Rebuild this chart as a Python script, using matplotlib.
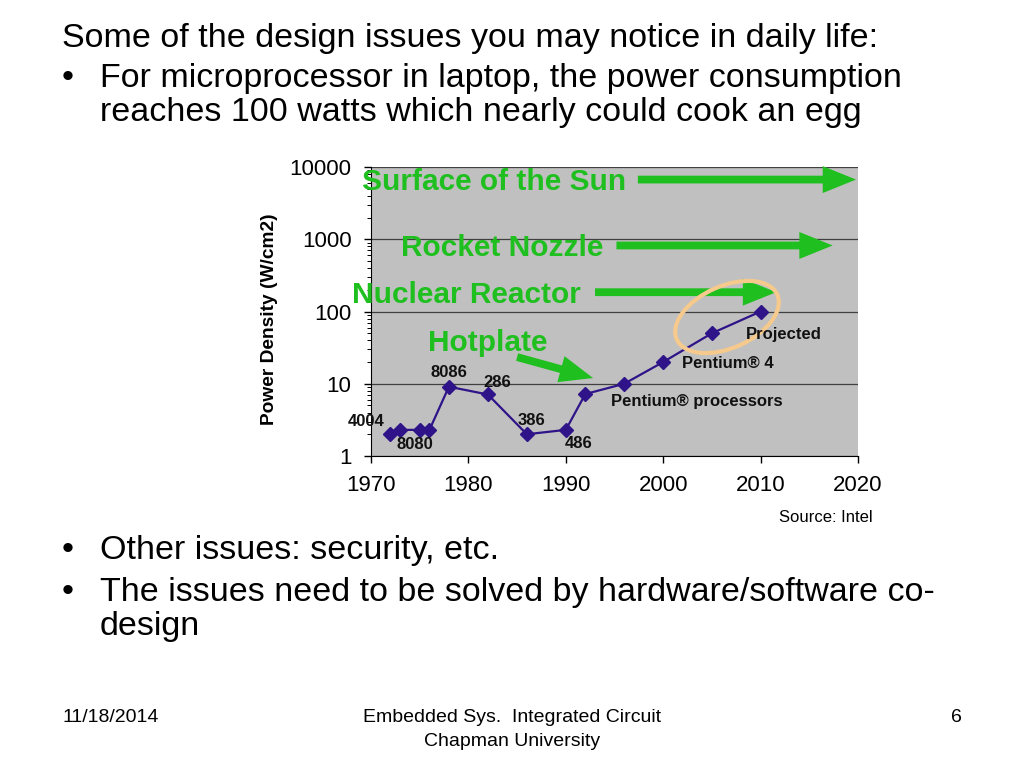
import matplotlib
matplotlib.use("Agg")
import matplotlib.pyplot as plt
from matplotlib.patches import Ellipse
import matplotlib.transforms as mtransforms

plt.rcParams['font.family'] = ['Liberation Sans', 'DejaVu Sans']

# ---- data ----
years = [1972, 1973, 1975, 1976, 1978, 1982, 1986, 1990, 1992, 1996, 2000, 2005, 2010]
density = [2.0, 2.3, 2.3, 2.3, 9.1, 7.1, 2.0, 2.3, 7.2, 10, 20, 50, 100]

chip_labels = ["4004", "8080", "8086", "286", "386", "486",
               "Pentium® processors", "Pentium® 4", "Projected"]
chip_label_pos = [(1969.45, 3.05), (1974.5, 1.42), (1978.0, 14.2), (1983.0, 10.3),
                  (1986.5, 3.08), (1991.35, 1.5), (2003.45, 5.65), (2006.6, 19.2),
                  (2012.35, 47.3)]

ref_labels = ["Surface of the Sun", "Rocket Nozzle", "Nuclear Reactor", "Hotplate"]
ref_text_pos = [(1982.6, 6200), (1983.5, 757), (1979.75, 169), (1982.0, 36.6)]
ref_arrow_from = [(1997.4, 6700), (1995.2, 820), (1993.0, 185), (1985.0, 23.4)]
ref_arrow_to = [(2019.8, 6700), (2017.4, 820), (2011.6, 185), (1992.8, 12.0)]

xticks = [1970, 1980, 1990, 2000, 2010, 2020]
yticks = [1, 10, 100, 1000, 10000]
ytick_labels = ["1", "10", "100", "1000", "10000"]

green = "#1FBF1F"
navy = "#2E1488"

fig = plt.figure(figsize=(10.24, 7.68), dpi=100)

# ---- slide text ----
fs = 24.5
fig.text(62/1024, 1-38/768, "Some of the design issues you may notice in daily life:",
         fontsize=fs, va='center', ha='left')
bullets = [(79, "•", "For microprocessor in laptop, the power consumption"),
           (112, None, "reaches 100 watts which nearly could cook an egg"),
           (551, "•", "Other issues: security, etc."),
           (593, "•", "The issues need to be solved by hardware/software co-"),
           (626, None, "design")]
for y, b, t in bullets:
    if b:
        fig.text(62/1024, 1-y/768, b, fontsize=fs, va='center', ha='left')
    fig.text(100/1024, 1-y/768, t, fontsize=fs, va='center', ha='left')

fig.text(873/1024, 1-517/768, "Source: Intel", fontsize=12, ha='right', va='center')

ffs = 14
fig.text(62/1024, 1-717/768, "11/18/2014", fontsize=ffs, ha='left', va='center')
fig.text(512/1024, 1-717/768, "Embedded Sys.  Integrated Circuit", fontsize=ffs,
         ha='center', va='center')
fig.text(512/1024, 1-741/768, "Chapman University", fontsize=ffs,
         ha='center', va='center')
fig.text(962/1024, 1-717/768, "6", fontsize=ffs, ha='right', va='center')

# ---- chart ----
ax = fig.add_axes([371/1024, 1-456/768, 487/1024, 289/768])
ax.set_facecolor("#C0C0C0")
ax.set_yscale('log')
ax.set_xlim(1970, 2020)
ax.set_ylim(1, 10000)
ax.set_xticks(xticks)
ax.set_xticklabels([str(v) for v in xticks], fontsize=16)
ax.set_yticks(yticks)
ax.set_yticklabels(ytick_labels, fontsize=16)
ax.yaxis.grid(True, which='major', color='#404040', lw=0.9)
ax.set_axisbelow(True)
for s in ['top', 'right']:
    ax.spines[s].set_visible(False)
ax.spines['left'].set_color('black')
ax.spines['bottom'].set_color('black')
ax.tick_params(axis='both', which='major', length=5, width=1, direction='out', pad=9)
ax.tick_params(axis='y', which='minor', length=3, width=0.7, direction='out')
ax.set_ylabel("Power Density (W/cm2)", fontsize=13.8, fontweight='bold')
ax.yaxis.set_label_coords(-0.19, 0.474)

ax.plot(years, density, color=navy, lw=1.6, marker='D', markersize=7.5,
        markerfacecolor=navy, markeredgecolor=navy, zorder=5)

for lab, (x, y) in zip(chip_labels, chip_label_pos):
    ax.text(x, y, lab, fontsize=12, fontweight='bold', color='#111111',
            ha='center', va='center', clip_on=False, zorder=9)

for lab, (x, y) in zip(ref_labels, ref_text_pos):
    ax.text(x, y, lab, fontsize=21.5, fontweight='bold', color=green,
            ha='center', va='center', clip_on=False, zorder=7)
for p0, p1 in zip(ref_arrow_from, ref_arrow_to):
    ax.annotate("", xy=p1, xytext=p0,
                arrowprops=dict(arrowstyle="simple,head_length=1.2,head_width=0.97,tail_width=0.28",
                                mutation_scale=20, color=green, lw=0, shrinkA=0, shrinkB=0),
                annotation_clip=False, zorder=7)

# orange highlight ellipse around the projected points (pixel space)
ell = Ellipse((727, 768-317), width=110, height=62, angle=24,
              fill=False, edgecolor="#F6C98C", lw=3.0, zorder=8)
ell.set_transform(mtransforms.IdentityTransform())
ell.set_clip_on(False)
ax.add_artist(ell)

fig.savefig("out.png", dpi=100)
